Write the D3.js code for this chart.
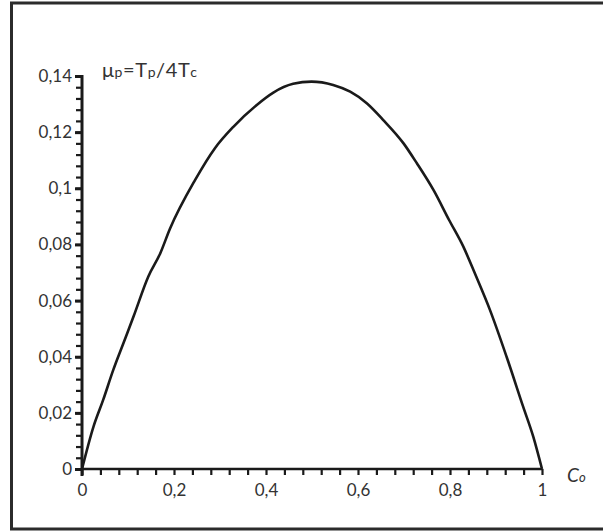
<!DOCTYPE html>
<html>
<head>
<meta charset="utf-8">
<script src="https://cdn.jsdelivr.net/npm/d3@7"></script>
<style>
  html, body { margin: 0; padding: 0; background: #fff; }
  svg { display: block; }
  text { font-family: Lato, "Open Sans", sans-serif; fill: #333; }
</style>
</head>
<body>
<script>
// Concentration c0 (x) and reduced temperature mu_p = Tp / 4Tc (y)
const cValues  = [0, 0.025, 0.046, 0.068, 0.090, 0.112, 0.144, 0.170, 0.191, 0.246, 0.289, 0.329,
                  0.380, 0.416, 0.459, 0.499, 0.546, 0.583, 0.619, 0.655, 0.699, 0.728, 0.764,
                  0.798, 0.829, 0.854, 0.887, 0.923, 0.959, 0.981, 1];
const muValues = [0, 0.0151, 0.0246, 0.0353, 0.0448, 0.0543, 0.0685, 0.0768, 0.0855, 0.1030, 0.1143, 0.1219,
                  0.1297, 0.1341, 0.1372, 0.1380, 0.1368, 0.1344, 0.1303, 0.1243, 0.1160, 0.1089, 0.0994,
                  0.0887, 0.0792, 0.0697, 0.0566, 0.0400, 0.0222, 0.0115, 0];

const yMajorTicks = [0, 0.02, 0.04, 0.06, 0.08, 0.1, 0.12, 0.14];
const xMajorTicks = [0, 0.2, 0.4, 0.6, 0.8, 1];
const yMinorStep = 0.004;
const xMinorStep = 0.04;

const W = 603, H = 532;
const svg = d3.select("body").append("svg").attr("width", W).attr("height", H);

// Outer frame
svg.append("rect")
  .attr("x", 11.5).attr("y", 3).attr("width", 600).attr("height", 526)
  .attr("fill", "none").attr("stroke", "#2b2b2b").attr("stroke-width", 3);

const x = d3.scaleLinear().domain([0, 1]).range([82, 542]);
const y = d3.scaleLinear().domain([0, 0.14]).range([469, 76]);

const fmt = v => String(+v.toFixed(2)).replace(".", ",");

// Y axis: minor ticks, then labels on the major ones
const yMinor = d3.range(0, 0.14 + 1e-9, yMinorStep);
const gy = svg.append("g").attr("transform", `translate(${x(0)},0)`);
gy.call(d3.axisLeft(y).tickValues(yMinor).tickSize(6).tickFormat(""));
gy.select(".domain").remove();
gy.selectAll(".tick line").attr("stroke", "#1a1a1a").attr("stroke-width", 2.2);

const gyl = svg.append("g").attr("transform", `translate(${x(0)},0)`);
gyl.call(d3.axisLeft(y).tickValues(yMajorTicks).tickSize(7).tickPadding(3).tickFormat(fmt));
gyl.select(".domain").remove();
gyl.selectAll(".tick line").attr("stroke", "#1a1a1a").attr("stroke-width", 3);
gyl.selectAll(".tick text").style("font-size", "17px").attr("fill", "#333");

// X axis: minor ticks below the line, labels on the major ones
const xMinor = d3.range(0, 1 + 1e-9, xMinorStep);
const gx = svg.append("g").attr("transform", `translate(0,${y(0)})`);
gx.call(d3.axisBottom(x).tickValues(xMinor).tickSize(6).tickFormat(""));
gx.select(".domain").remove();
gx.selectAll(".tick line").attr("stroke", "#1a1a1a").attr("stroke-width", 2.2);

const gxl = svg.append("g").attr("transform", `translate(0,${y(0)})`);
gxl.call(d3.axisBottom(x).tickValues(xMajorTicks).tickSize(0).tickPadding(15).tickFormat(fmt));
gxl.select(".domain").remove();
gxl.selectAll(".tick text").style("font-size", "17px").attr("fill", "#333");

// Axis lines
svg.append("line")
  .attr("x1", x(0)).attr("x2", x(0)).attr("y1", y(0.14) - 1).attr("y2", y(0) + 7)
  .attr("stroke", "#1a1a1a").attr("stroke-width", 3);
svg.append("line")
  .attr("x1", x(0)).attr("x2", x(1)).attr("y1", y(0)).attr("y2", y(0))
  .attr("stroke", "#1a1a1a").attr("stroke-width", 2.6);

// Curve
const line = d3.line().x(d => x(d[0])).y(d => y(d[1])).curve(d3.curveMonotoneX);
svg.append("path")
  .datum(cValues.map((c, i) => [c, muValues[i]]))
  .attr("d", line)
  .attr("fill", "none").attr("stroke", "#1a1a1a").attr("stroke-width", 2.6)
  .attr("stroke-linejoin", "round");

// Y title: mu_p = T_p / 4T_c
const title = svg.append("text").attr("x", 102).attr("y", 77)
  .style("font-size", "20px").style("letter-spacing", "0.6px");
title.append("tspan").text("μ");
title.append("tspan").style("font-size", "14px").text("p");
title.append("tspan").text("=T");
title.append("tspan").style("font-size", "14px").text("p");
title.append("tspan").text("/4T");
title.append("tspan").style("font-size", "14px").text("c");

// X title: C0
const xt = svg.append("text").attr("x", 567).attr("y", 482).style("font-size", "19px").style("font-style", "italic");
xt.append("tspan").text("C");
xt.append("tspan").style("font-size", "13px").text("o");
</script>
</body>
</html>
